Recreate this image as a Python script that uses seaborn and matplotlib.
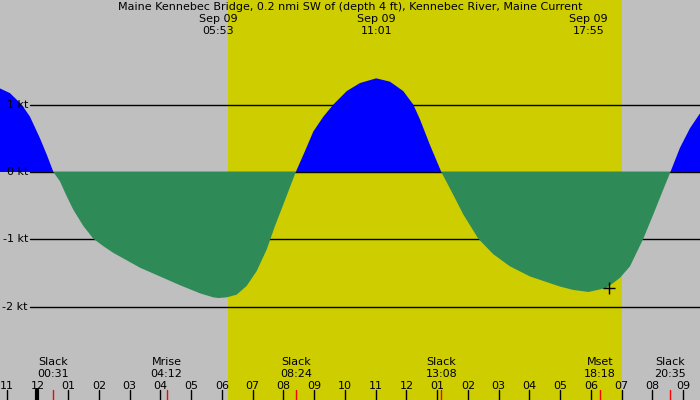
import pandas as pd
import matplotlib
matplotlib.use("Agg")
import matplotlib.pyplot as plt
import seaborn as sns

# current readings, hours from midnight Sep 09 (negative = Sep 08), knots
hours = [-1.220, -0.894, -0.514, -0.244, 0.081, 0.299, 0.517, 0.732, 0.950,
         1.164, 1.489, 1.815, 2.140, 2.465, 2.901, 3.333, 3.984, 4.634, 5.285,
         5.717, 5.883, 6.153, 6.478, 6.803, 7.128, 7.454, 7.724, 7.886, 8.156,
         8.400, 8.699, 8.969, 9.294, 9.620, 10.055, 10.488, 11.017, 11.463,
         11.896, 12.221, 12.439, 12.764, 13.133, 13.522, 13.847, 14.335,
         14.823, 15.366, 16.016, 16.992, 17.424, 17.917, 18.511, 18.943,
         19.268, 19.701, 20.026, 20.351, 20.583, 20.894, 21.220, 21.545]
knots = [1.24, 1.17, 1.00, 0.82, 0.50, 0.26, 0.00, -0.14, -0.36,
         -0.56, -0.80, -0.99, -1.10, -1.20, -1.31, -1.42, -1.55, -1.68, -1.80,
         -1.86, -1.87, -1.86, -1.82, -1.69, -1.47, -1.15, -0.80, -0.61, -0.29,
         0.00, 0.31, 0.60, 0.82, 1.00, 1.20, 1.32, 1.39, 1.34,
         1.20, 1.00, 0.78, 0.40, 0.00, -0.34, -0.63, -0.99,
         -1.22, -1.40, -1.55, -1.70, -1.75, -1.78, -1.72, -1.57,
         -1.40, -0.99, -0.63, -0.26, 0.00, 0.36, 0.65, 0.87]

title = "Maine Kennebec Bridge, 0.2 nmi SW of (depth 4 ft), Kennebec River, Maine Current"

# max current times shown on top
top_dates = ["Sep 09", "Sep 09", "Sep 09"]
top_times = ["05:53", "11:01", "17:55"]

# events along the bottom
event_names = ["Slack", "Mrise", "Slack", "Slack", "Mset", "Slack"]
event_times = ["00:31", "04:12", "08:24", "13:08", "18:18", "20:35"]

sunrise = "06:11"
sunset = "19:00"

level_values = [1, 0, -1, -2]
level_labels = ["1 kt", "0 kt", "-1 kt", "-2 kt"]

hour_ticks = list(range(-1, 22))
hour_labels = ["11", "12", "01", "02", "03", "04", "05", "06", "07", "08", "09",
               "10", "11", "12", "01", "02", "03", "04", "05", "06", "07", "08", "09"]

marker_time = 18.585
marker_knots = -1.72


def to_hours(s):
    hh, mm = s.split(":")
    return int(hh) + int(mm) / 60.0


df = pd.DataFrame({"hour": hours, "knots": knots})

sns.set_style("white")
plt.rcParams["font.family"] = ["DejaVu Sans"]
plt.rcParams["font.size"] = 8
plt.rcParams["text.color"] = "black"

fig = plt.figure(figsize=(7, 4), dpi=100)
ax = fig.add_axes([0, 0, 1, 1])
ax.set_facecolor("#bfbfbf")
fig.patch.set_facecolor("#bfbfbf")

ax.set_xlim(-1.2195, 21.545)
ax.set_ylim(-3.383, 2.552)

# daylight
ax.axvspan(to_hours(sunrise), to_hours(sunset), color="#cdcd00", lw=0, zorder=0)

# level lines
yx = ax.get_yaxis_transform()
for v, lab in zip(level_values, level_labels):
    ax.plot([30 / 700, 1], [v, v], transform=yx, color="black", lw=1, zorder=1)
    ax.text(28 / 700, v, lab, transform=yx, ha="right", va="center",
            fontsize=8, color="black")

# flood / ebb fills
ax.fill_between(df["hour"], df["knots"], 0, where=df["knots"] >= 0,
                interpolate=True, color="#0000ff", lw=0, zorder=2)
ax.fill_between(df["hour"], df["knots"], 0, where=df["knots"] <= 0,
                interpolate=True, color="#2e8b57", lw=0, zorder=2)

sns.scatterplot(x=[marker_time], y=[marker_knots], marker="+", s=70,
                color="black", linewidth=1, ax=ax, zorder=4)

# hour ticks along bottom
tx = ax.get_xaxis_transform()
for h, lab in zip(hour_ticks, hour_labels):
    lw = 3 if h == 0 else 1
    ax.plot([h, h], [0, 0.025], transform=tx, color="black", lw=lw, zorder=5)
    ax.text(h, 0.035, lab, transform=tx, ha="center", va="center", fontsize=8)

for name, t in zip(event_names, event_times):
    h = to_hours(t)
    ax.plot([h, h], [0, 0.025], transform=tx, color="red", lw=1, zorder=5)
    ax.text(h, 0.095, name, transform=tx, ha="center", va="center", fontsize=8)
    ax.text(h, 0.065, t, transform=tx, ha="center", va="center", fontsize=8)

# title and top labels
ax.text(0.5, 0.9825, title, transform=ax.transAxes, ha="center", va="center",
        fontsize=8)
for d, t in zip(top_dates, top_times):
    h = to_hours(t)
    ax.text(h, 0.9525, d, transform=tx, ha="center", va="center", fontsize=8)
    ax.text(h, 0.9225, t, transform=tx, ha="center", va="center", fontsize=8)

ax.set_xticks([])
ax.set_yticks([])
for s in ax.spines.values():
    s.set_visible(False)
ax.set_xlabel("")
ax.set_ylabel("")

fig.savefig("out.png", dpi=100, facecolor=fig.get_facecolor())
